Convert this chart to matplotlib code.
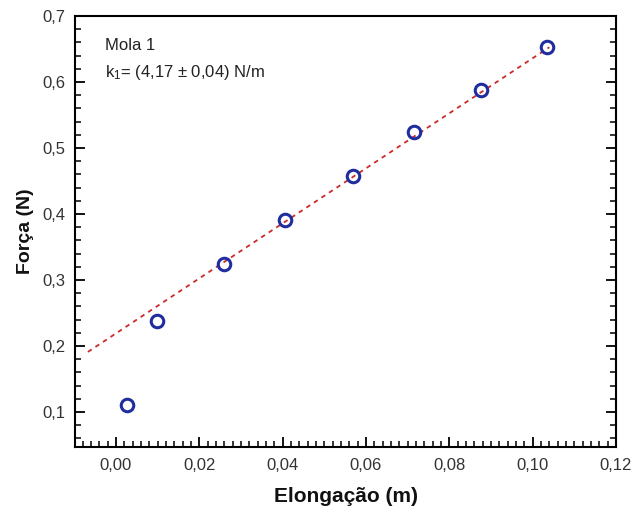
import matplotlib
matplotlib.use("Agg")
import matplotlib.pyplot as plt
from matplotlib.ticker import MultipleLocator, FuncFormatter
import numpy as np

plt.rcParams['font.family'] = ['Liberation Sans', 'DejaVu Sans']
plt.rcParams['mathtext.fontset'] = 'custom'
plt.rcParams['mathtext.rm'] = 'Liberation Sans'
plt.rcParams['mathtext.it'] = 'Liberation Sans'

# Data
elongacao = [0.0026, 0.0098, 0.0259, 0.0407, 0.0568, 0.0716, 0.0877, 0.1035]
forca = [0.111, 0.238, 0.324, 0.391, 0.458, 0.524, 0.588, 0.653]
fit_slope = 4.17
fit_intercept = 0.219
fit_x_range = [-0.0067, 0.104]

fig = plt.figure(figsize=(6.44, 5.12), dpi=100)
ax = fig.add_axes([75/644, 1-447/512, (616-75)/644, (447-16)/512])

xl = np.linspace(fit_x_range[0], fit_x_range[1], 50)
ax.plot(xl, fit_intercept + fit_slope*xl, color='#cc2a2a', lw=1.3,
        dashes=(2.5, 2.5), zorder=2)
ax.plot(elongacao, forca, 'o', mfc='none', mec='#1f2d9e', mew=2.2, ms=9, zorder=3)

ax.set_xlim(-0.0098, 0.12)
ax.set_ylim(0.047, 0.7)
ax.xaxis.set_major_locator(MultipleLocator(0.02))
ax.xaxis.set_minor_locator(MultipleLocator(0.002))
ax.yaxis.set_major_locator(MultipleLocator(0.1))
ax.yaxis.set_minor_locator(MultipleLocator(0.02))
ax.xaxis.set_major_formatter(FuncFormatter(lambda v, p: f"{v:.2f}".replace('.', ',').replace('-0,00', '0,00')))
ax.yaxis.set_major_formatter(FuncFormatter(lambda v, p: f"{v:.1f}".replace('.', ',')))
ax.tick_params(which='both', direction='in', top=False, right=True, labelsize=12,
               color='black', labelcolor='#333333')
ax.tick_params(which='major', length=7, width=1.3)
ax.tick_params(which='minor', length=4, width=1.1)
ax.tick_params(axis='x', pad=8)
ax.tick_params(axis='y', pad=7)
for s in ax.spines.values():
    s.set_linewidth(1.5)

ax.set_xlabel('Elongação (m)', fontsize=15, fontweight='bold', labelpad=10, color='#111111')
ax.set_ylabel('Força (N)', fontsize=14, fontweight='bold', labelpad=6, color='#111111')

ax.text(0.055, 0.932, 'Mola 1', transform=ax.transAxes, fontsize=12, va='center', color='#222222')
ax.text(0.055, 0.868, r'k$_{1}$= (4,17 ± 0,04) N/m', transform=ax.transAxes, fontsize=12,
        va='center', color='#222222')

fig.savefig('out.png', dpi=100)
